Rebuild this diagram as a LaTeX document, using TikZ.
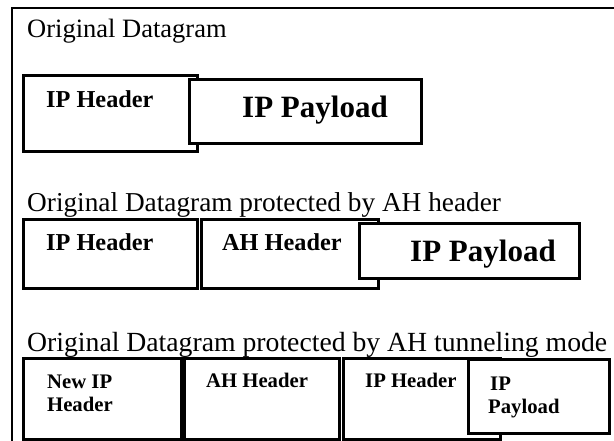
\documentclass[tikz,border=0pt]{standalone}
\usepackage{fontspec}
\setmainfont{Liberation Serif}
\begin{document}
\begin{tikzpicture}[x=1pt,y=-1pt,
  box/.style={draw=black, line width=2.8pt, fill=white, inner sep=0pt, anchor=north west},
  frameline/.style={draw=black, line width=2.8pt},
  title/.style={anchor=base west, inner sep=0pt, font=\fontsize{27.3}{30}\selectfont},
  lbl/.style={anchor=base west, inner sep=0pt, font=\bfseries\fontsize{24.3}{27}\selectfont},
  big/.style={anchor=base west, inner sep=0pt, font=\bfseries\fontsize{31}{34}\selectfont},
  small/.style={anchor=base west, inner sep=0pt, font=\bfseries\fontsize{20.7}{23}\selectfont}]
\useasboundingbox (0,0) rectangle (614,440);
\clip (0,0) rectangle (614,440);
% outer frame
\coordinate (f1) at (12,445);
\coordinate (f2) at (12,8);
\coordinate (f3) at (620,8);
\draw[frameline] (f1) -- (f2) -- (f3);
% row 1
\node[title, font=\fontsize{26.5}{30}\selectfont] (t1) at (27,37) {Original Datagram};
\node[box, minimum width=174pt, minimum height=76pt] (h1) at (22,74) {};
\node[box, minimum width=232pt, minimum height=64pt] (p1) at (188,78) {};
\node[lbl] (h1t) at (46,107) {IP Header};
\node[big] (p1t) at (242,117) {IP Payload};
% row 2
\node[title] (t2) at (27,211) {Original Datagram protected by AH header};
\node[box, minimum width=174pt, minimum height=69pt] (h2) at (22,218) {};
\node[box, minimum width=177pt, minimum height=69pt] (a2) at (200,218) {};
\node[box, minimum width=220pt, minimum height=55pt] (p2) at (358,222) {};
\node[lbl] (h2t) at (46,250) {IP Header};
\node[lbl] (a2t) at (222,250) {AH Header};
\node[big] (p2t) at (410,261) {IP Payload};
% row 3
\node[title, font=\fontsize{27.7}{30}\selectfont] (t3) at (27,351) {Original Datagram protected by AH tunneling mode};
\node[box, minimum width=158pt, minimum height=81pt] (n3) at (22,357) {};
\node[box, minimum width=155pt, minimum height=81pt] (a3) at (183,357) {};
\node[box, minimum width=157pt, minimum height=81pt] (i3) at (342,357) {};
\node[box, minimum width=141pt, minimum height=74pt] (p3) at (467,358) {};
\node[small] (n3t) at (47,388) {New IP};
\node[small] (n3u) at (47,411) {Header};
\node[small] (a3t) at (206,387) {AH Header};
\node[small] (i3t) at (365,387) {IP Header};
\node[small] (p3t) at (490,390) {IP};
\node[small] (p3u) at (488,413) {Payload};
\end{tikzpicture}
\end{document}
